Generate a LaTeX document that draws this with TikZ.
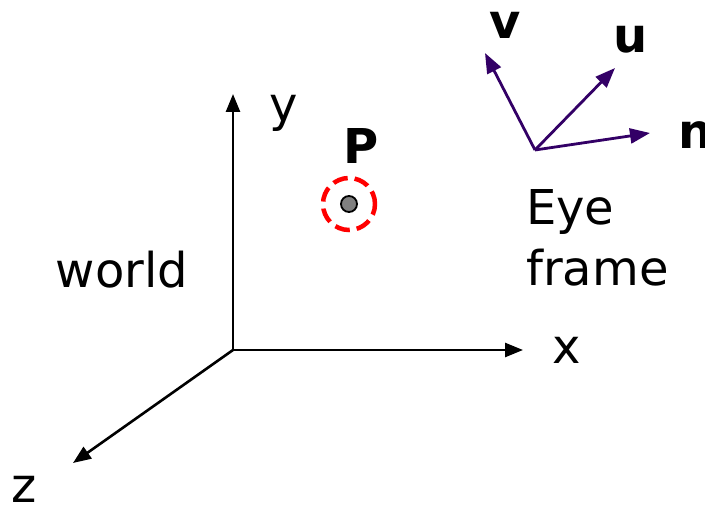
\documentclass[tikz,border=0pt]{standalone}
\usepackage{fontspec}
\setmainfont{DejaVu Sans}
\usetikzlibrary{arrows.meta}
\definecolor{eyepurple}{HTML}{330066}
\begin{document}
\begin{tikzpicture}[x=1pt,y=-1pt,
  axis/.style={line width=2.6pt,-{Stealth[length=18pt,width=14pt,inset=0pt]}},
  eyevec/.style={line width=2.8pt,draw=eyepurple,-{Stealth[length=20pt,width=15pt,inset=0pt]}},
  lbl/.style={font=\fontsize{48}{52}\selectfont,inner sep=0pt},
  blbl/.style={font=\fontsize{48}{52}\selectfont\bfseries,inner sep=0pt}]
\useasboundingbox (0,0) rectangle (705,513);
% world axes
\coordinate (O) at (233,350);
\coordinate (Y) at (233,94);
\coordinate (X) at (523,350);
\coordinate (Z) at (73,463);
\draw[axis] (O) -- (Y);
\draw[axis] (O) -- (X);
\draw[axis] (O) -- (Z);
\node[lbl] (ly) at (284,113) {y};
\node[lbl] (lx) at (567,350) {x};
\node[lbl] (lz) at (24,489) {z};
\node[lbl] (world) at (122,270) {world};
% point P
\node[blbl] (P) at (361,146) {P};
\draw[red,line width=4.5pt,dash pattern=on 15pt off 7pt,dash phase=4pt] (349,204) circle (26);
\node[circle,draw=black,line width=1.8pt,fill=gray,minimum size=16pt,inner sep=0pt] (dot) at (349,204) {};
% eye frame
\coordinate (E) at (535,150);
\coordinate (V) at (485,53);
\coordinate (U) at (615,68);
\coordinate (N) at (650,133);
\draw[eyevec] (E) -- (V);
\draw[eyevec] (E) -- (U);
\draw[eyevec] (E) -- (N);
\node[blbl] (lv) at (505,25) {v};
\node[blbl] (lu) at (631,40) {u};
\node[blbl,anchor=west] (ln) at (678,135) {n};
\node[lbl,anchor=west] (eye) at (526,212) {Eye};
\node[lbl,anchor=west] (frame) at (526,268) {frame};
\end{tikzpicture}
\end{document}
